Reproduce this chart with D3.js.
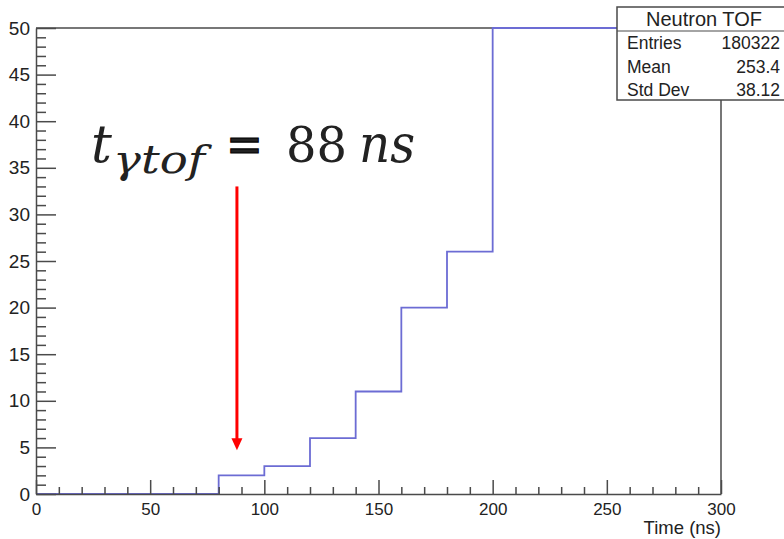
<!DOCTYPE html>
<html>
<head>
<meta charset="utf-8">
<script src="https://cdn.jsdelivr.net/npm/d3@7"></script>
<style>
  html, body { margin: 0; padding: 0; background: #fff; }
  svg { display: block; }
  text { font-family: "Liberation Sans", Arial, sans-serif; fill: #222; }
</style>
</head>
<body>
<svg id="chart" width="784" height="539"></svg>
<script>
// Histogram of neutron time of flight, 20 ns bins
const binEdges = [0, 20, 40, 60, 80, 100, 120, 140, 160, 180, 200, 220, 240, 260, 280, 300];
const binCounts = [0, 0, 0, 0, 2, 3, 6, 11, 20, 26, 1500, 9000, 17000, 21000, 19000];

const xTicks = [0, 50, 100, 150, 200, 250, 300];
const yTicks = [0, 5, 10, 15, 20, 25, 30, 35, 40, 45, 50];

const statTitle = "Neutron TOF";
const statNames = ["Entries", "Mean", "Std Dev"];
const statValues = ["180322", "253.4", "38.12"];

const xTitle = "Time (ns)";
const markerTime = 88;          // ns, annotated gamma TOF
const markerRange = [33, 4.7];  // arrow extent in counts

const svg = d3.select("#chart");
const axisColor = "#4a4a4a";

const x = d3.scaleLinear().domain([0, 300]).range([36, 721]);
const y = d3.scaleLinear().domain([0, 50]).range([494, 28]).clamp(true);

// frame: top and right edges
svg.append("line")
  .attr("x1", x(0)).attr("x2", x(300)).attr("y1", y(50)).attr("y2", y(50))
  .attr("stroke", axisColor).attr("stroke-width", 1.5);
svg.append("line")
  .attr("x1", x(300)).attr("x2", x(300)).attr("y1", y(50)).attr("y2", y(0))
  .attr("stroke", axisColor).attr("stroke-width", 1.5);

// histogram outline (values above the range are drawn at the frame top)
const pts = binCounts.map((c, i) => [binEdges[i], c]);
pts.push([binEdges[binEdges.length - 1], binCounts[binCounts.length - 1]]);
const step = d3.line().x(d => x(d[0])).y(d => y(d[1])).curve(d3.curveStepAfter);
svg.append("path")
  .datum(pts)
  .attr("d", step)
  .attr("fill", "none")
  .attr("stroke", "#6c6cd4")
  .attr("stroke-width", 1.8);

// x axis: major ticks with labels, minor ticks every 10 ns
const gx = svg.append("g").attr("transform", `translate(0,${y(0)})`);
gx.call(d3.axisBottom(x).tickValues(xTicks).tickSizeInner(-14).tickSizeOuter(0).tickPadding(9));
const gxMinor = svg.append("g").attr("transform", `translate(0,${y(0)})`);
gxMinor.call(d3.axisBottom(x).tickValues(d3.range(0, 301, 10).filter(v => v % 50 !== 0))
  .tickSizeInner(-7).tickSizeOuter(0).tickFormat(""));
gxMinor.select(".domain").remove();
gx.selectAll("text").attr("font-size", 17).attr("fill", "#222");

// y axis: major ticks with labels, minor ticks every count
const gy = svg.append("g").attr("transform", `translate(${x(0)},0)`);
gy.call(d3.axisLeft(y).tickValues(yTicks).tickSizeInner(-20).tickSizeOuter(0).tickPadding(6));
const gyMinor = svg.append("g").attr("transform", `translate(${x(0)},0)`);
gyMinor.call(d3.axisLeft(y).tickValues(d3.range(0, 51, 1).filter(v => v % 5 !== 0))
  .tickSizeInner(-10).tickSizeOuter(0).tickFormat(""));
gyMinor.select(".domain").remove();
gy.selectAll("text").attr("font-size", 19).attr("fill", "#222");

svg.selectAll(".domain, .tick line").attr("stroke", axisColor).attr("stroke-width", 1.5);

// axis title
svg.append("text")
  .attr("x", 721).attr("y", 534)
  .attr("text-anchor", "end")
  .attr("font-size", 18.5)
  .text(xTitle);

// annotation formula
const f = svg.append("g").attr("class", "formula");
const serif = "'DejaVu Serif', 'Liberation Serif', serif";
f.append("text").attr("x", 91).attr("y", 162)
  .style("font-family", serif).attr("font-style", "italic").attr("font-size", 52)
  .attr("fill", "#000").text("t");
f.append("text").attr("x", 113).attr("y", 173)
  .style("font-family", serif).attr("font-style", "italic").attr("font-size", 39)
  .attr("textLength", 92).attr("lengthAdjust", "spacingAndGlyphs")
  .attr("fill", "#000").text("γtof");
f.append("text").attr("x", 226).attr("y", 162)
  .style("font-family", serif).attr("font-size", 52)
  .attr("stroke", "#000").attr("stroke-width", 1.2)
  .attr("textLength", 37).attr("lengthAdjust", "spacingAndGlyphs")
  .attr("fill", "#000").text("=");
f.append("text").attr("x", 286).attr("y", 162)
  .style("font-family", serif).attr("font-size", 49)
  .attr("textLength", 61).attr("lengthAdjust", "spacingAndGlyphs")
  .attr("fill", "#000").text("88");
f.append("text").attr("x", 359).attr("y", 162)
  .style("font-family", serif).attr("font-style", "italic").attr("font-size", 52)
  .attr("textLength", 56).attr("lengthAdjust", "spacingAndGlyphs")
  .attr("fill", "#000").text("ns");

// arrow pointing at the gamma flash time
const ax = x(markerTime);
const ay0 = y(markerRange[0]), ay1 = y(markerRange[1]);
svg.append("line")
  .attr("x1", ax).attr("x2", ax).attr("y1", ay0).attr("y2", ay1 - 11)
  .attr("stroke", "#ff0000").attr("stroke-width", 3);
svg.append("path")
  .attr("d", `M${ax - 5.5},${ay1 - 12} L${ax + 5.5},${ay1 - 12} L${ax},${ay1} Z`)
  .attr("fill", "#ff0000");

// statistics box
const sb = svg.append("g");
const bx = 617, bw = 170, by = 7, bh = 93;
sb.append("rect").attr("x", bx).attr("y", by).attr("width", bw).attr("height", bh)
  .attr("fill", "#fff").attr("stroke", axisColor).attr("stroke-width", 1.5);
sb.append("line").attr("x1", bx).attr("x2", bx + bw).attr("y1", 31).attr("y2", 31)
  .attr("stroke", axisColor).attr("stroke-width", 1.2);
sb.append("text").attr("x", 704).attr("y", 26).attr("text-anchor", "middle")
  .attr("font-size", 20).attr("fill", "#111").text(statTitle);
statNames.forEach((n, i) => {
  const ty = 49 + i * 23.5;
  sb.append("text").attr("x", 627).attr("y", ty).attr("font-size", 17.5).attr("fill", "#111").text(n);
  sb.append("text").attr("x", 780).attr("y", ty).attr("text-anchor", "end")
    .attr("font-size", 17.5).attr("fill", "#111").text(statValues[i]);
});
</script>
</body>
</html>
